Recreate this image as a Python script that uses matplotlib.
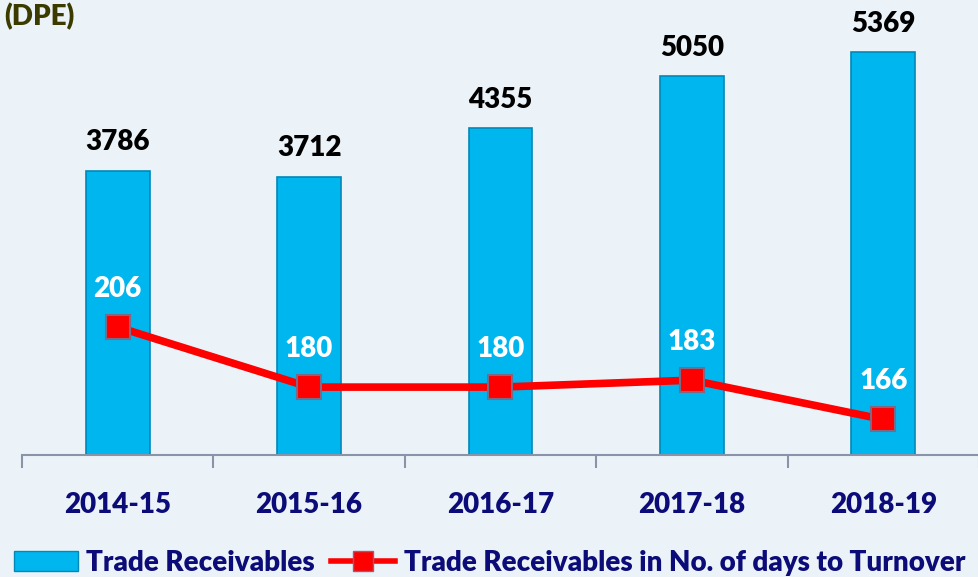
import matplotlib.pyplot as plt
from matplotlib.lines import Line2D
from matplotlib.patches import Patch

plt.rcParams['font.family'] = ['Lato', 'DejaVu Sans']
plt.rcParams['font.weight'] = 'bold'

# data
years = ['2014-15', '2015-16', '2016-17', '2017-18', '2018-19']
receivables = [3786, 3712, 4355, 5050, 5369]
days_turnover = [206, 180, 180, 183, 166]

navy = '#0c0c78'
bar_color = '#00b6ee'
red = '#ff0000'

fig = plt.figure(figsize=(9.79, 5.77), dpi=100)
fig.patch.set_facecolor('#ecf3f8')

ax = fig.add_axes([22 / 979, 122 / 577, 957 / 979, 455 / 577])
ax.set_facecolor('none')
x = list(range(len(years)))
ax.bar(x, receivables, width=0.333, color=bar_color, edgecolor='#0088b8', linewidth=1.2, zorder=2)
ax.set_ylim(0, 6067)
ax.set_xlim(-0.5, 4.5)
for xi, v in zip(x, receivables):
    ax.text(xi, v + 210, str(v), ha='center', va='bottom', fontsize=20, fontweight='heavy', color='black')

# axis styling
for s in ['top', 'right', 'left']:
    ax.spines[s].set_visible(False)
ax.spines['bottom'].set_color('#8a94a8')
ax.spines['bottom'].set_linewidth(1.5)
ax.set_yticks([])
ax.set_xticks([i - 0.5 for i in range(len(years) + 1)])
ax.set_xticklabels([])
ax.tick_params(axis='x', direction='out', length=9, width=1.5, color='#8a94a8')
for xi, y in zip(x, years):
    ax.text(xi, -0.11, y, transform=ax.get_xaxis_transform(), ha='center', va='center',
            fontsize=20, fontweight='heavy', color=navy)

# secondary axis: days to turnover
ax2 = ax.twinx()
ax2.set_ylim(150.6, 347.6)
ax2.axis('off')
ax2.plot(x, days_turnover, color=red, linewidth=5.5, marker='s', markersize=17,
         markerfacecolor=red, markeredgecolor='#7a6a86', markeredgewidth=1.5, zorder=3)
for xi, v in zip(x, days_turnover):
    ax2.text(xi, v + 11, str(v), ha='center', va='bottom', fontsize=20, fontweight='heavy', color='white')

fig.text(0.004, 0.972, '(DPE)', ha='left', va='center', fontsize=20, fontweight='heavy', color='#3b3b00')

handles = [Patch(facecolor=bar_color, edgecolor='#0088b8'),
           Line2D([0], [0], color=red, linewidth=4, marker='s', markersize=15,
                  markerfacecolor=red, markeredgecolor='#7a6a86')]
labels = ['Trade Receivables', 'Trade Receivables in No. of days to Turnover']
leg = fig.legend(handles, labels, loc='center', bbox_to_anchor=(0.5, 0.025), ncol=2, frameon=False,
                 handlelength=2.3, handletextpad=0.3, columnspacing=0.6,
                 prop={'size': 20, 'weight': 'heavy'})
for t in leg.get_texts():
    t.set_color(navy)

fig.savefig('out.png', dpi=100, facecolor=fig.get_facecolor())
